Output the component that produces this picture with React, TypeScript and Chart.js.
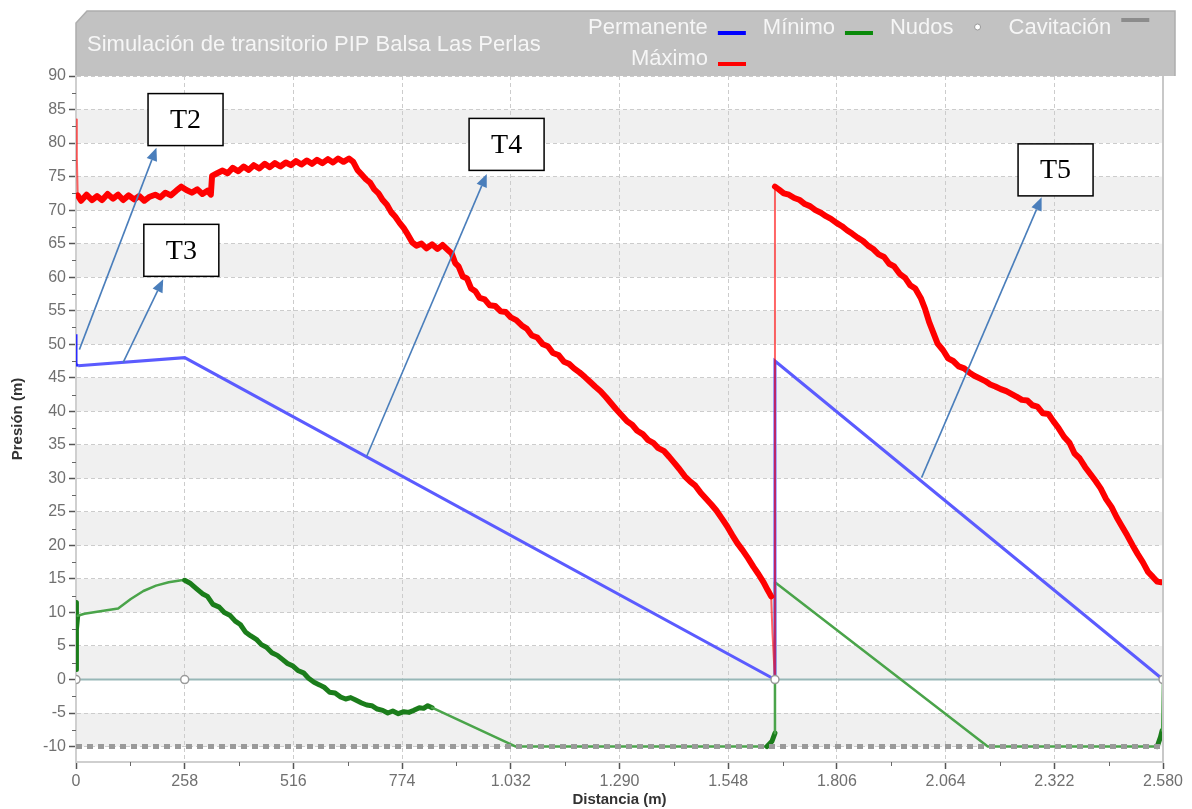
import React, { useEffect, useRef } from 'react';
import { Chart, registerables } from 'chart.js';

Chart.register(...registerables);

// ---------- axis ticks ----------
const xTickValues = [0, 258, 516, 774, 1032, 1290, 1548, 1806, 2064, 2322, 2580];
const xTickLabels = ['0', '258', '516', '774', '1.032', '1.290', '1.548', '1.806', '2.064', '2.322', '2.580'];
const yTickValues = [-10, -5, 0, 5, 10, 15, 20, 25, 30, 35, 40, 45, 50, 55, 60, 65, 70, 75, 80, 85, 90];
const yTickLabels = ['-10', '-5', '0', '5', '10', '15', '20', '25', '30', '35', '40', '45', '50', '55', '60', '65', '70', '75', '80', '85', '90'];

// ---------- Permanente ----------
const permanenteX = [0, 0, 5, 258, 1659, 1659, 2580];
const permanenteY = [51.5, 47.0, 46.8, 48.0, 0, 47.5, 0];

// ---------- Máximo ----------
const maximoX = [
  0, 2, 4, 12, 25, 38, 50, 62, 75, 88, 100, 112, 125, 138, 150, 162, 175, 188, 200, 212, 225, 238, 250, 262, 275, 288, 300, 312, 320,
  323, 335, 348, 360, 372, 385, 398, 410, 422, 435, 448, 460, 472, 485, 498, 510, 522, 535, 548, 560, 572, 585, 598, 610, 622, 635, 648, 658,
  668, 678, 688, 698, 708, 718, 728, 738, 748, 758, 768, 778, 788, 798, 808, 820, 832, 845, 858, 870, 882, 892, 900, 908, 918, 928, 938, 948,
  958, 970, 982, 995, 1008, 1020, 1032, 1045, 1058, 1070, 1082, 1095, 1108, 1120, 1132, 1145, 1158, 1170, 1182, 1195, 1208, 1220, 1232, 1245,
  1258, 1270, 1282, 1295, 1308, 1320, 1332, 1345, 1358, 1370, 1382, 1395, 1408, 1420, 1432, 1445, 1458, 1470, 1482, 1495, 1508, 1520, 1532,
  1545, 1558, 1570, 1582, 1595, 1608, 1620, 1632, 1642, 1650, 1653, 1659, 1659,
  1668, 1680, 1692, 1705, 1718, 1730, 1742, 1755, 1768, 1780, 1792, 1805, 1818, 1830, 1842, 1855, 1868, 1880, 1892, 1905, 1918, 1930, 1942,
  1955, 1968, 1980, 1992, 2005, 2015, 2025, 2035, 2045, 2058, 2070, 2082, 2095, 2108, 2120, 2132, 2145, 2158, 2170, 2182, 2195, 2208, 2220,
  2232, 2245, 2258, 2270, 2282, 2295, 2308, 2320, 2332, 2345, 2358, 2370, 2382, 2395, 2408, 2420, 2432, 2445, 2458, 2470, 2482, 2495, 2508,
  2520, 2532, 2545, 2556, 2566, 2576, 2580, 2580,
];
const maximoY = [
  83.5, 78.0, 72.2, 71.4, 72.3, 71.5, 72.1, 71.5, 72.4, 71.7, 72.3, 71.5, 72.2, 71.6, 72.1, 71.4, 72.0, 72.3, 71.9, 72.6, 72.2, 72.9, 73.5, 73.0, 72.6, 73.1, 72.4, 72.9, 72.3,
  75.1, 75.5, 75.9, 75.5, 76.3, 75.8, 76.5, 76.0, 76.7, 76.2, 76.9, 76.4, 77.0, 76.5, 77.1, 76.7, 77.3, 76.8, 77.4, 76.9, 77.5, 77.0, 77.6, 77.1, 77.7, 77.2, 77.7, 77.2,
  76.0, 75.3, 74.6, 74.1, 73.1, 72.5, 71.5, 70.8, 69.7, 69.0, 68.1, 67.3, 66.3, 65.2, 64.7, 65.0, 64.3, 64.9, 64.2, 64.8, 64.1, 63.5, 62.1, 61.6, 60.1, 59.8, 58.3, 57.9,
  56.9, 56.7, 55.8, 55.7, 54.9, 54.8, 54.0, 53.6, 52.8, 52.3, 51.3, 51.0, 50.0, 49.7, 48.7, 48.4, 47.4, 47.1, 46.4, 45.8, 45.1, 44.4, 43.7, 43.0,
  42.1, 41.2, 40.3, 39.4, 38.5, 38.0, 37.1, 36.6, 35.7, 35.3, 34.5, 34.1, 33.2, 32.3, 31.4, 30.3, 29.5, 28.9, 27.9, 27.0, 26.1, 25.2, 24.1,
  22.9, 21.5, 20.3, 19.3, 18.1, 16.8, 15.7, 14.5, 13.3, 12.4, 7.0, 0, 73.5,
  73.1, 72.5, 72.3, 71.8, 71.5, 70.9, 70.6, 70.0, 69.6, 69.1, 68.7, 68.1, 67.6, 67.0, 66.5, 65.9, 65.4, 64.7, 64.2, 63.4, 63.0, 62.0, 61.6,
  60.5, 59.9, 58.8, 58.3, 56.9, 55.3, 53.3, 51.7, 50.1, 49.1, 47.9, 47.5, 46.7, 46.4, 45.8, 45.3, 44.9, 44.5, 44.0, 43.7, 43.3, 43.0, 42.6,
  42.2, 41.7, 41.6, 40.9, 40.7, 39.7, 39.6, 38.5, 37.5, 36.2, 35.3, 33.7, 33.0, 31.7, 30.6, 29.6, 28.5, 26.9, 25.7, 24.2, 22.9, 21.5, 20.0,
  18.7, 17.5, 16.0, 15.3, 14.6, 14.5, 14.5, 0,
];

// ---------- Mínimo ----------
const minimoX = [
  0, 0, 2, 4, 20, 50, 100, 130, 160, 190, 220, 250, 258, 270, 285, 300, 312, 325, 340, 352, 365, 378, 390, 402, 415, 428, 440, 452, 465,
  478, 490, 502, 515, 528, 540, 552, 565, 578, 590, 602, 615, 628, 640, 652, 665, 678, 690, 702, 715, 728, 740, 752, 765, 778, 790, 802,
  815, 825, 835, 845, 1044, 1640, 1652, 1659, 1659, 2164, 2566, 2574, 2578, 2580,
];
const minimoY = [
  1.5, 11.5, 7.5, 9.5, 9.8, 10.1, 10.6, 12.0, 13.2, 14.0, 14.5, 14.8, 14.8, 14.4, 13.6, 12.8, 12.4, 11.2, 10.8, 10.0, 9.6, 8.7, 8.2, 7.1, 6.5, 6.0, 5.2, 4.8, 4.0,
  3.6, 3.0, 2.4, 2.0, 1.3, 1.0, 0.2, -0.4, -0.8, -1.2, -1.9, -2.0, -2.6, -2.9, -2.7, -3.1, -3.5, -3.8, -3.9, -4.4, -4.6, -5.0, -4.7, -5.1, -4.8, -4.9, -4.6,
  -4.2, -4.3, -3.9, -4.2, -10, -10, -9.2, -8.0, 14.5, -10, -10, -8.6, -7.6, 0,
];

// ---------- Nudos ----------
const nudosX = [0, 258, 1659, 2580];
const nudosY = [0, 0, 0, 0];

// ---------- Cavitación ----------
const cavitacionX = [0, 2580];
const cavitacionY = [-10, -10];

// ---------- annotations (data coordinates) ----------
const annotationLabels = ['T2', 'T3', 'T4', 'T5'];
const annotationBoxX = [260, 250, 1022, 2325];
const annotationBoxY = [83.5, 64.0, 79.8, 76.0];
const arrowFromX = [8, 112, 690, 2007];
const arrowFromY = [49.2, 47.3, 33.3, 30.1];
const arrowToX = [191, 207, 975, 2292];
const arrowToY = [79.3, 59.7, 75.4, 71.9];

const TITLE = 'Simulación de transitorio PIP Balsa Las Perlas';
const legendRow1 = [
  { label: 'Permanente', color: '#0000ff', kind: 'line' },
  { label: 'Mínimo', color: '#0a8a0a', kind: 'line' },
  { label: 'Nudos', color: '#999999', kind: 'dot' },
  { label: 'Cavitación', color: '#8c8c8c', kind: 'cav' },
];
const legendRow2 = [{ label: 'Máximo', color: '#ff0000', kind: 'line' }];

const pts = (xs: number[], ys: number[]) => xs.map((x, i) => ({ x, y: ys[i] }));

const FONT = '"Liberation Sans", Arial, sans-serif';

const backgroundPlugin = {
  id: 'bg',
  beforeDraw(chart: any) {
    const { ctx, chartArea: ca, scales } = chart;
    const y = scales.y;
    ctx.save();
    ctx.fillStyle = '#ffffff';
    ctx.fillRect(0, 0, chart.width, chart.height);
    ctx.fillStyle = '#f0f0f0';
    for (let i = 0; i < yTickValues.length - 1; i++) {
      const lo = yTickValues[i];
      if (((lo % 10) + 10) % 10 === 0) {
        const pTop = y.getPixelForValue(yTickValues[i + 1]);
        const pBot = y.getPixelForValue(lo);
        ctx.fillRect(ca.left, pTop, ca.right - ca.left, pBot - pTop);
      }
    }
    // header
    const L = ca.left;
    const R = ca.right + 12;
    const T = 11;
    const B = ca.top;
    ctx.beginPath();
    ctx.moveTo(L, B);
    ctx.lineTo(L, T + 12);
    ctx.lineTo(L + 11, T);
    ctx.lineTo(R, T);
    ctx.lineTo(R, B);
    ctx.closePath();
    ctx.fillStyle = '#c2c2c2';
    ctx.fill();
    ctx.beginPath();
    ctx.moveTo(L, B);
    ctx.lineTo(L, T + 12);
    ctx.lineTo(L + 11, T);
    ctx.lineTo(R, T);
    ctx.lineTo(R, B);
    ctx.strokeStyle = '#adadad';
    ctx.lineWidth = 1.5;
    ctx.stroke();

    ctx.font = `22px ${FONT}`;
    ctx.fillStyle = '#f6f6f6';
    ctx.textBaseline = 'alphabetic';
    ctx.textAlign = 'left';
    ctx.fillText(TITLE, L + 11, 51);

    const drawSwatch = (item: any, x: number, baseline: number) => {
      if (item.kind === 'line') {
        ctx.fillStyle = item.color;
        ctx.fillRect(x, baseline - 3, 28, 4);
      } else if (item.kind === 'cav') {
        ctx.fillStyle = item.color;
        ctx.fillRect(x, baseline - 16, 28, 4);
      } else {
        ctx.beginPath();
        ctx.arc(x + 14, baseline - 7, 3, 0, Math.PI * 2);
        ctx.fillStyle = '#ffffff';
        ctx.fill();
        ctx.strokeStyle = item.color;
        ctx.lineWidth = 1;
        ctx.stroke();
      }
    };
    let x = 588;
    const base1 = 34;
    legendRow1.forEach((item) => {
      ctx.fillStyle = '#f6f6f6';
      ctx.fillText(item.label, x, base1);
      const w = ctx.measureText(item.label).width;
      drawSwatch(item, x + w + 10, base1);
      x += w + 10 + 28 + 17;
    });
    const base2 = 65;
    legendRow2.forEach((item) => {
      const w = ctx.measureText(item.label).width;
      const sx = 718;
      ctx.fillStyle = '#f6f6f6';
      ctx.fillText(item.label, sx - 10 - w, base2);
      drawSwatch(item, sx, base2);
    });
    ctx.restore();
  },
};

const overlayPlugin = {
  id: 'overlay',
  afterDraw(chart: any) {
    const { ctx, chartArea: ca, scales } = chart;
    const xs = scales.x;
    const ys = scales.y;
    ctx.save();
    // right border of plot
    ctx.strokeStyle = '#c8c8c8';
    ctx.lineWidth = 2;
    ctx.beginPath();
    ctx.moveTo(ca.right, ca.top);
    ctx.lineTo(ca.right, ca.bottom);
    ctx.stroke();
    // minor ticks
    ctx.strokeStyle = '#666';
    ctx.lineWidth = 1;
    for (let i = 0; i < yTickValues.length - 1; i++) {
      const v = (yTickValues[i] + yTickValues[i + 1]) / 2;
      const py = Math.round(ys.getPixelForValue(v)) + 0.5;
      ctx.beginPath();
      ctx.moveTo(ca.left - 4, py);
      ctx.lineTo(ca.left, py);
      ctx.stroke();
    }
    for (let i = 0; i < xTickValues.length - 1; i++) {
      const v = (xTickValues[i] + xTickValues[i + 1]) / 2;
      const px = Math.round(xs.getPixelForValue(v)) + 0.5;
      ctx.beginPath();
      ctx.moveTo(px, ca.bottom);
      ctx.lineTo(px, ca.bottom + 4);
      ctx.stroke();
    }
    // annotations
    for (let i = 0; i < annotationLabels.length; i++) {
      const x0 = xs.getPixelForValue(arrowFromX[i]);
      const y0 = ys.getPixelForValue(arrowFromY[i]);
      const x1 = xs.getPixelForValue(arrowToX[i]);
      const y1 = ys.getPixelForValue(arrowToY[i]);
      const ang = Math.atan2(y1 - y0, x1 - x0);
      const head = 13;
      const half = 5.5;
      const bx = x1 - head * Math.cos(ang);
      const by = y1 - head * Math.sin(ang);
      ctx.strokeStyle = '#4a7ebb';
      ctx.fillStyle = '#4a7ebb';
      ctx.lineWidth = 1.6;
      ctx.beginPath();
      ctx.moveTo(x0, y0);
      ctx.lineTo(bx, by);
      ctx.stroke();
      ctx.beginPath();
      ctx.moveTo(x1, y1);
      ctx.lineTo(bx + half * Math.sin(ang), by - half * Math.cos(ang));
      ctx.lineTo(bx - half * Math.sin(ang), by + half * Math.cos(ang));
      ctx.closePath();
      ctx.fill();

      const cx = xs.getPixelForValue(annotationBoxX[i]);
      const cy = ys.getPixelForValue(annotationBoxY[i]);
      const bw = 75;
      const bh = 52;
      ctx.fillStyle = '#ffffff';
      ctx.fillRect(cx - bw / 2, cy - bh / 2, bw, bh);
      ctx.strokeStyle = '#000000';
      ctx.lineWidth = 1.5;
      ctx.strokeRect(cx - bw / 2, cy - bh / 2, bw, bh);
      ctx.fillStyle = '#000000';
      ctx.font = '28px "Liberation Serif", "Times New Roman", serif';
      ctx.textAlign = 'center';
      ctx.textBaseline = 'middle';
      ctx.fillText(annotationLabels[i], cx, cy + 1);
    }
    ctx.restore();
  },
};

export default function App() {
  const ref = useRef<HTMLCanvasElement>(null);
  useEffect(() => {
    const canvas = ref.current;
    if (!canvas) return;
    const thinRed = (c: any) => {
      const a = c.p0.parsed.x;
      const b = c.p1.parsed.x;
      return a === b || a < 3 || (a >= 1650 && b <= 1659) || a >= 2576;
    };
    const inNoisyGreen = (c: any) => {
      const a = c.p0.parsed.x;
      const b = c.p1.parsed.x;
      return (a >= 258 && b <= 845) || (b <= 4) || (a >= 1640 && b <= 1659 && c.p1.parsed.y < 0) || (a >= 2566 && b <= 2578);
    };
    const chart = new Chart(canvas, {
      type: 'line',
      data: {
        datasets: [
          {
            label: 'NudosPts',
            data: pts(nudosX, nudosY),
            showLine: false,
            pointRadius: 4,
            pointBackgroundColor: '#ffffff',
            pointBorderColor: '#9a9a9a',
            pointBorderWidth: 1.5,
          },
          {
            label: 'Máximo',
            data: pts(maximoX, maximoY),
            borderColor: '#ff0000',
            borderWidth: 6,
            borderJoinStyle: 'round',
            borderCapStyle: 'round',
            pointRadius: 0,
            segment: {
              borderWidth: (c: any) => (thinRed(c) ? 2 : 6),
              borderColor: (c: any) => (thinRed(c) ? 'rgba(255,0,0,0.6)' : '#ff0000'),
            },
          },
          {
            label: 'Permanente',
            data: pts(permanenteX, permanenteY),
            borderColor: '#5b5bff',
            borderWidth: 3,
            pointRadius: 0,
            segment: {
              borderColor: (c: any) => (c.p0.parsed.x < 5 ? '#2a2aff' : '#5b5bff'),
            },
          },
          {
            label: 'Cavitación',
            data: pts(cavitacionX, cavitacionY),
            borderColor: '#9a9a9a',
            borderWidth: 5,
            borderDash: [6, 5],
            pointRadius: 0,
          },
          {
            label: 'Mínimo',
            data: pts(minimoX, minimoY),
            borderColor: '#4aa44a',
            borderWidth: 2.5,
            borderJoinStyle: 'round',
            borderCapStyle: 'round',
            pointRadius: 0,
            segment: {
              borderWidth: (c: any) => (inNoisyGreen(c) ? 5 : 2.5),
              borderColor: (c: any) => (inNoisyGreen(c) ? '#1b7d1b' : '#4aa44a'),
            },
          },
          {
            label: 'NudosLine',
            data: pts(nudosX, nudosY),
            borderColor: '#97b7b7',
            borderWidth: 2,
            pointRadius: 0,
          },
        ],
      },
      options: {
        responsive: false,
        animation: false,
        devicePixelRatio: 1,
        events: [],
        layout: { padding: { top: 76, right: 29, left: 0, bottom: 0 } },
        plugins: {
          legend: { display: false },
          tooltip: { enabled: false },
          title: { display: false },
        },
        scales: {
          x: {
            type: 'linear',
            min: 0,
            max: 2580,
            afterBuildTicks: (s: any) => {
              s.ticks = xTickValues.map((v) => ({ value: v }));
            },
            afterFit: (s: any) => {
              s.height = 47;
            },
            ticks: {
              callback: (_v: any, i: number) => xTickLabels[i],
              font: { family: FONT, size: 16 },
              color: '#707070',
              padding: 3,
              maxRotation: 0,
              autoSkip: false,
            },
            grid: {
              color: '#cccccc',
              lineWidth: 1,
              tickLength: 7,
              tickColor: '#555555',
              tickWidth: 1.5,
            },
            border: { color: '#cfcfcf', width: 2, dash: [4, 3] },
            title: {
              display: true,
              text: 'Distancia (m)',
              font: { family: FONT, size: 15, weight: 'bold' },
              color: '#333333',
              padding: { top: 0, bottom: 0 },
            },
          },
          y: {
            type: 'linear',
            min: -12.3,
            max: 90,
            afterBuildTicks: (s: any) => {
              s.ticks = yTickValues.map((v) => ({ value: v }));
            },
            afterFit: (s: any) => {
              s.width = 76;
            },
            ticks: {
              callback: (_v: any, i: number) => yTickLabels[i],
              font: { family: FONT, size: 16 },
              color: '#707070',
              padding: 3,
              autoSkip: false,
            },
            grid: {
              color: '#cccccc',
              lineWidth: 1,
              tickLength: 7,
              tickColor: '#555555',
              tickWidth: 1.5,
            },
            border: { color: '#cfcfcf', width: 2, dash: [4, 3] },
            title: {
              display: true,
              text: 'Presión (m)',
              font: { family: FONT, size: 15, weight: 'bold' },
              color: '#333333',
              padding: { top: 9, bottom: 0 },
            },
          },
        },
      } as any,
      plugins: [backgroundPlugin, overlayPlugin],
    });
    return () => chart.destroy();
  }, []);
  return (
    <div style={{ position: 'absolute', left: 0, top: 0, width: 1192, height: 809, background: '#ffffff' }}>
      <canvas ref={ref} width={1192} height={809} style={{ display: 'block', width: 1192, height: 809 }} />
    </div>
  );
}
